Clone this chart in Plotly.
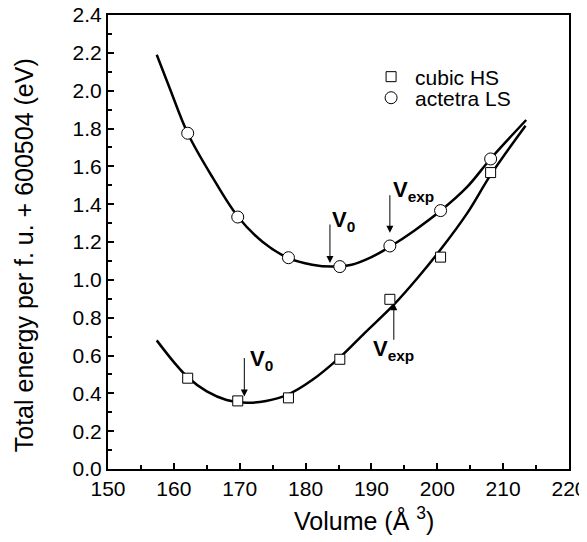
import plotly.graph_objects as go

# ---- data ----
vol_pts = [162.1, 169.7, 177.4, 185.2, 192.8, 200.5, 208.1]
ls_pts = [1.775, 1.332, 1.117, 1.070, 1.179, 1.366, 1.639]
hs_pts = [0.480, 0.360, 0.376, 0.580, 0.897, 1.120, 1.567]

ls_fit_x = [157.4, 159.4, 162.1, 165.9, 169.7, 173.5, 177.4, 181.0, 184.0,
            187.0, 190.0, 192.8, 196.5, 200.5, 204.5, 208.1, 213.5]
ls_fit_y = [2.19, 2.01, 1.775, 1.54, 1.335, 1.20, 1.115, 1.08, 1.07,
            1.08, 1.12, 1.175, 1.26, 1.365, 1.49, 1.64, 1.845]

hs_fit_x = [157.4, 160.0, 162.1, 165.0, 168.0, 171.0, 174.0, 177.4, 181.0,
            185.2, 189.0, 193.3, 197.0, 200.5, 204.5, 208.2, 213.4]
hs_fit_y = [0.68, 0.565, 0.485, 0.41, 0.365, 0.35, 0.36, 0.395, 0.47,
            0.59, 0.72, 0.865, 1.01, 1.16, 1.35, 1.56, 1.815]

x_ticks = [150, 160, 170, 180, 190, 200, 210, 220]
y_ticks = [0.0, 0.2, 0.4, 0.6, 0.8, 1.0, 1.2, 1.4, 1.6, 1.8, 2.0, 2.2, 2.4]

FONT = "Liberation Sans, Arial, Helvetica, sans-serif"

fig = go.Figure()
fig.add_trace(go.Scatter(x=ls_fit_x, y=ls_fit_y, mode="lines",
                         line=dict(color="black", width=2.5, shape="spline"),
                         showlegend=False, hoverinfo="skip"))
fig.add_trace(go.Scatter(x=hs_fit_x, y=hs_fit_y, mode="lines",
                         line=dict(color="black", width=2.5, shape="spline"),
                         showlegend=False, hoverinfo="skip"))
fig.add_trace(go.Scatter(x=vol_pts, y=hs_pts, mode="markers", name="cubic HS",
                         legend="legend",
                         marker=dict(symbol="square", size=10, color="white",
                                     line=dict(color="black", width=1))))
fig.add_trace(go.Scatter(x=vol_pts, y=ls_pts, mode="markers", name="actetra LS",
                         legend="legend2",
                         marker=dict(symbol="circle", size=12, color="white",
                                     line=dict(color="black", width=1))))

arrow = dict(showarrow=True, arrowhead=2, arrowsize=1.4, arrowwidth=1,
             arrowcolor="black", text="", xref="x", yref="y", axref="pixel",
             ayref="pixel")
# arrows (head at x, y)
fig.add_annotation(x=183.7, y=1.089, ax=0, ay=-40, **arrow)
fig.add_annotation(x=192.8, y=1.249, ax=0, ay=-39, **arrow)
fig.add_annotation(x=170.7, y=0.383, ax=0, ay=-40, **arrow)
fig.add_annotation(x=193.4, y=0.876, ax=0, ay=38, **arrow)

lab = dict(showarrow=False, xref="x", yref="y", xanchor="left",
           yanchor="middle", font=dict(family=FONT, size=22, color="black"))
fig.add_annotation(x=183.76, y=1.313, text="<b>V</b><sub><b>0</b></sub>", **lab)
fig.add_annotation(x=192.9, y=1.468, text="<b>V</b><sub><b>exp</b></sub>", **lab)
fig.add_annotation(x=171.3, y=0.578, text="<b>V</b><sub><b>0</b></sub>", **lab)
fig.add_annotation(x=189.95, y=0.63, text="<b>V</b><sub><b>exp</b></sub>", **lab)

# axis titles
fig.add_annotation(text="Volume (Å <sup>3</sup>)", xref="paper", yref="paper",
                   x=0.555, y=-0.110, xanchor="center", yanchor="middle",
                   showarrow=False, font=dict(family=FONT, size=25, color="black"))
fig.add_annotation(text="Total energy per f. u. + 600504 (eV)", xref="paper",
                   yref="paper", x=-0.183, y=0.470, xanchor="center",
                   yanchor="middle", textangle=-90, showarrow=False,
                   font=dict(family=FONT, size=25, color="black"))

axis_common = dict(showline=True, linecolor="black", linewidth=2, mirror=True,
                   ticks="inside", ticklen=6, tickwidth=1.5, tickcolor="black",
                   showgrid=False, zeroline=False, automargin=False,
                   ticklabeloverflow="allow",
                   tickfont=dict(family=FONT, size=21, color="black"))

fig.update_xaxes(range=[150, 220], tickvals=x_ticks,
                 minor=dict(dtick=5, ticks="inside", ticklen=4, tickwidth=1.5,
                            tickcolor="black", showgrid=False),
                 **axis_common)
fig.update_yaxes(range=[0, 2.4], tickvals=y_ticks, tickformat=".1f",
                 minor=dict(dtick=0.1, ticks="inside", ticklen=4, tickwidth=1.5,
                            tickcolor="black", showgrid=False),
                 **axis_common)

leg = dict(xanchor="left", yanchor="middle", bgcolor="rgba(0,0,0,0)",
           borderwidth=0, font=dict(family=FONT, size=21, color="black"),
           itemwidth=38)
# the page adds an 8 px body margin, so the figure is 8 px smaller
fig.update_layout(width=579, height=534,
                  margin=dict(l=100, r=18, t=7, b=73, autoexpand=False),
                  paper_bgcolor="white", plot_bgcolor="white",
                  font=dict(family=FONT, color="black"),
                  legend=dict(x=0.562, y=0.8634, **leg),
                  legend2=dict(x=0.562, y=0.817, **leg))

fig.write_html("out.html")
